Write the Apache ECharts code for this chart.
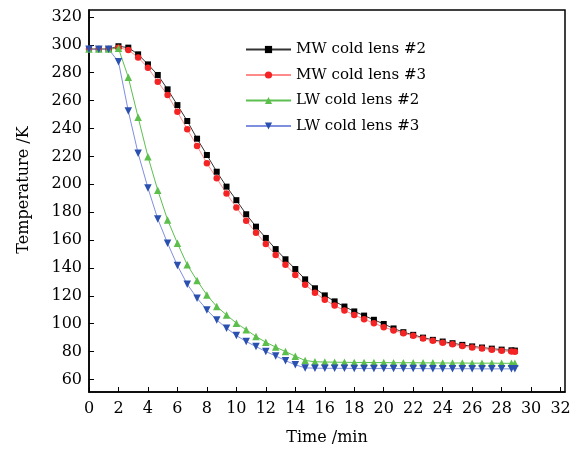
<!DOCTYPE html>
<html>
<head>
<meta charset="utf-8">
<script src="https://cdn.jsdelivr.net/npm/echarts@6/dist/echarts.min.js"></script>
<style>html,body{margin:0;padding:0;background:#fff}#c{width:580px;height:451px}</style>
</head>
<body>
<div id="c"></div>
<script>
var times = [0, 0.667, 1.333, 2, 2.667, 3.333, 4, 4.667, 5.333, 6, 6.667, 7.333, 8, 8.667, 9.333, 10, 10.667, 11.333, 12, 12.667, 13.333, 14, 14.667, 15.333, 16, 16.667, 17.333, 18, 18.667, 19.333, 20, 20.667, 21.333, 22, 22.667, 23.333, 24, 24.667, 25.333, 26, 26.667, 27.333, 28, 28.667, 28.9];
var mw2 = [297, 297, 297, 299, 298, 293.2, 286, 278.4, 268.1, 256.8, 245.4, 232.7, 221, 209, 198.3, 188.6, 178.5, 169.6, 161.5, 153.5, 146.2, 139.2, 131.8, 125.4, 120.3, 116, 112.3, 108.8, 105.8, 102.8, 99.8, 96.6, 93.9, 92, 90, 88.4, 87.2, 86, 84.8, 83.7, 82.9, 82.1, 81.4, 80.9, 80.7];
var mw3 = [297, 297, 297, 298, 296.3, 291, 283.6, 273.5, 264, 252, 239.4, 227.5, 215, 204.3, 193.3, 183.3, 173.9, 165.3, 157.2, 149.3, 142.2, 135, 128, 122.2, 117.2, 113, 109.4, 106.3, 103.2, 100.4, 97.5, 95.2, 93.2, 91.3, 89.3, 87.7, 86.4, 85.3, 84, 82.9, 82.2, 81.3, 80.5, 80, 79.8];
var lw2 = [297, 297, 297, 297.5, 276.7, 248, 219.8, 195.7, 174.4, 157.7, 142.2, 130.9, 120.6, 112.3, 106.3, 100.4, 95.6, 90.8, 86.7, 83.2, 80, 76.7, 73.6, 72.7, 72.5, 72.4, 72.3, 72.2, 72.2, 72.1, 72.1, 72, 72, 72, 71.9, 71.9, 71.8, 71.8, 71.8, 71.7, 71.7, 71.7, 71.6, 71.6, 71.6];
var lw3 = [296.8, 296.8, 296.8, 287.9, 252.5, 222.2, 197.4, 175.1, 157.7, 141.7, 128.3, 118.3, 109.9, 102.7, 96.8, 91.5, 87.2, 83.6, 80, 76.9, 73.5, 70.5, 68.3, 68.1, 68, 68, 68, 67.9, 67.9, 67.9, 67.9, 67.8, 67.8, 67.8, 67.8, 67.7, 67.7, 67.7, 67.7, 67.7, 67.6, 67.6, 67.6, 67.6, 67.6];
var xTicks = [0, 2, 4, 6, 8, 10, 12, 14, 16, 18, 20, 22, 24, 26, 28, 30, 32];
var yTicks = [60, 80, 100, 120, 140, 160, 180, 200, 220, 240, 260, 280, 300, 320];
var names = ['MW cold lens #2', 'MW cold lens #3', 'LW cold lens #2', 'LW cold lens #3'];

function pairs(v) { return times.map(function (t, i) { return [t, v[i]]; }); }

var font = 'DejaVu Serif';
var chart = echarts.init(document.getElementById('c'), null, { renderer: 'canvas' });
chart.setOption({
  animation: false,
  backgroundColor: '#fff',
  grid: { left: 89, right: 15, top: 10, bottom: 58, show: true, borderColor: '#000', borderWidth: 1.5, backgroundColor: 'transparent' },
  legend: {
    orient: 'vertical', left: 240, top: 37, itemWidth: 45, itemHeight: 9, itemGap: 10.5,
    textStyle: { fontFamily: font, fontSize: 15, color: '#000' },
    data: names
  },
  xAxis: {
    type: 'value', min: 0, max: 32.3,
    name: 'Time /min', nameLocation: 'middle', nameGap: 38,
    nameTextStyle: { fontFamily: font, fontSize: 16, color: '#000' },
    axisLine: { show: true, onZero: false, lineStyle: { color: '#000', width: 1.5 } },
    axisTick: { show: true, inside: true, length: 5, customValues: xTicks, lineStyle: { color: '#000', width: 1 } },
    axisLabel: { customValues: xTicks, margin: 9, fontFamily: font, fontSize: 16, color: '#000' },
    splitLine: { show: false }
  },
  yAxis: {
    type: 'value', min: 51, max: 325,
    name: 'Temperature /K', nameLocation: 'middle', nameGap: 57,
    nameTextStyle: { fontFamily: font, fontSize: 16, color: '#000', padding: [0, 0, 0, 22] },
    axisLine: { show: true, onZero: false, lineStyle: { color: '#000', width: 1.5 } },
    axisTick: { show: true, inside: true, length: 5, customValues: yTicks, lineStyle: { color: '#000', width: 1 } },
    axisLabel: { customValues: yTicks, margin: 7, fontFamily: font, fontSize: 16, color: '#000' },
    splitLine: { show: false }
  },
  series: [
    { name: names[0], type: 'line', data: pairs(mw2), symbol: 'rect', symbolSize: 6,
      itemStyle: { color: '#000' }, lineStyle: { color: '#333', width: 1 } },
    { name: names[1], type: 'line', data: pairs(mw3), symbol: 'circle', symbolSize: 6.5,
      itemStyle: { color: '#f42424' }, lineStyle: { color: '#ff8a8a', width: 1 } },
    { name: names[2], type: 'line', data: pairs(lw2), symbol: 'triangle', symbolSize: 7.5,
      itemStyle: { color: '#5cbf4c' }, lineStyle: { color: '#5cc050', width: 1 } },
    { name: names[3], type: 'line', data: pairs(lw3), symbol: 'triangle', symbolSize: 7.5, symbolRotate: 180,
      itemStyle: { color: '#2a50b0' }, lineStyle: { color: '#7f8fdf', width: 1 } }
  ]
});
</script>
</body>
</html>
